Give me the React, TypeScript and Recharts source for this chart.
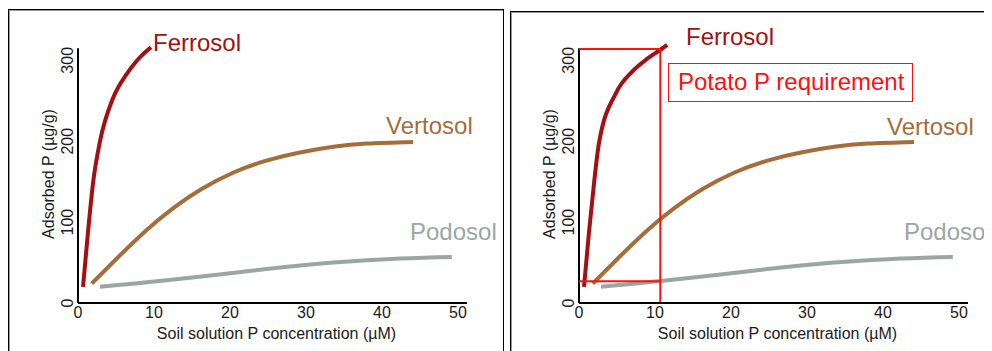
import React from 'react';
import { LineChart, Line, XAxis, YAxis, ReferenceLine, Label } from 'recharts';

// axis ticks
const xTicks = [0, 10, 20, 30, 40, 50];
const yTicks = [0, 100, 200, 300];

// sorption isotherms (conc in µM, adsorbed P in µg/g)
const ferrosolConc = [0.66, 1.3, 2.0, 2.9, 4.6, 6.4, 7.8, 9.6];
const ferrosolAds = [20, 86, 150, 200, 253, 283, 300, 316];
// right panel version runs a bit further
const ferrosolConc2 = [0.66, 1.3, 2.0, 2.6, 4.9, 7.0, 9.0, 10.7, 11.6];
const ferrosolAds2 = [20, 86, 150, 196, 260, 286, 302, 313, 319];
const vertosolConc = [1.8, 5.1, 9.0, 12.5, 16.1, 20.4, 24.8, 29.2, 33.6, 38.0, 44.1];
const vertosolAds = [24, 55, 90, 117, 140, 161, 176, 186, 193, 197, 199];
const podosolConc = [2.9, 11.7, 24.8, 33.6, 42.4, 49.2];
const podosolAds = [20, 28, 42, 50, 55, 57];

// potato P requirement box
const reqConc = 10.7;
const reqLow = 27;
const reqHigh = 314;
const yAxisTop = 315;

const zip = (xs: number[], ys: number[]) => xs.map((x, i) => ({ x, y: ys[i] }));

const FERRO = '#A30F12';
const VERTO = '#A56D3A';
const PODO = '#98A8A0';
const RED = '#FF1010';
const INK = '#1a1a1a';

const YTick = (props: any) => {
    const { x, y, payload } = props;
    return (
        <text x={x} y={y} transform={`rotate(-90 ${x} ${y})`} textAnchor="middle" fontSize={16} fill={INK}>
            {payload.value}
        </text>
    );
};

const YLabel = (props: any) => {
    const vb = props.viewBox;
    const cx = vb.x + 10;
    const cy = vb.y + vb.height / 2 + 4.5;
    return (
        <text x={cx} y={cy} transform={`rotate(-90 ${cx} ${cy})`} textAnchor="middle" dominantBaseline="central" fontSize={16} fill={INK}>
            Adsorbed P (µg/g)
        </text>
    );
};

const XLabel = (props: any) => {
    const vb = props.viewBox;
    return (
        <text x={vb.x + vb.width / 2 + 4} y={vb.y + 30} textAnchor="middle" dominantBaseline="central" fontSize={16} fill={INK}>
            Soil solution P concentration (µM)
        </text>
    );
};

const vertosolData = zip(vertosolConc, vertosolAds);
const podosolData = zip(podosolConc, podosolAds);

interface PanelProps {
    left: number;
    ferrosol: { x: number; y: number }[];
    requirement?: boolean;
}

const Panel: React.FC<PanelProps> = ({ left, ferrosol, requirement }) => (
    <div style={{ position: 'absolute', left, top: 0 }}>
        <LineChart width={480} height={340} margin={{ top: 28, right: 21, bottom: 0, left: 30 }}>
            <XAxis
                type="number"
                dataKey="x"
                domain={[0, 51.2]}
                ticks={xTicks}
                tickLine={false}
                tickSize={0}
                tickMargin={4}
                height={45}
                axisLine={{ stroke: '#000', strokeWidth: 2 }}
                tick={{ fontSize: 16, fill: INK }}
            >
                <Label content={XLabel} />
            </XAxis>
            <YAxis
                type="number"
                dataKey="y"
                domain={[0, 330]}
                ticks={yTicks}
                width={40}
                axisLine={false}
                tickLine={false}
                tickSize={0}
                tickMargin={5}
                tick={YTick}
            >
                <Label content={YLabel} />
            </YAxis>
            <ReferenceLine segment={[{ x: 0, y: 0 }, { x: 0, y: yAxisTop }]} stroke="#000" strokeWidth={2} />
            <Line data={podosolData} dataKey="y" type="natural" stroke={PODO} strokeWidth={4} dot={false} isAnimationActive={false} />
            <Line data={vertosolData} dataKey="y" type="natural" stroke={VERTO} strokeWidth={4} dot={false} isAnimationActive={false} />
            <Line data={ferrosol} dataKey="y" type="monotone" stroke={FERRO} strokeWidth={4} dot={false} isAnimationActive={false} />
            {requirement && (
                <ReferenceLine segment={[{ x: 0, y: reqHigh }, { x: reqConc, y: reqHigh }]} stroke={RED} strokeWidth={2} />
            )}
            {requirement && (
                <ReferenceLine segment={[{ x: reqConc, y: 0 }, { x: reqConc, y: reqHigh }]} stroke={RED} strokeWidth={2} />
            )}
            {requirement && (
                <ReferenceLine segment={[{ x: 0, y: reqLow }, { x: reqConc, y: reqLow }]} stroke={RED} strokeWidth={2} />
            )}
        </LineChart>
    </div>
);

const tag = (color: string, left: number, top: number) => ({
    position: 'absolute' as const,
    left,
    top,
    color,
    fontSize: 24,
    lineHeight: '24px',
    whiteSpace: 'nowrap' as const,
});

export default function App() {
    return (
        <div
            style={{
                position: 'relative',
                width: 984,
                height: 343,
                overflow: 'hidden',
                background: '#fff',
                fontFamily: "'Liberation Sans', Arial, sans-serif",
            }}
        >
            <div style={{ position: 'absolute', left: 0, top: 1, width: 494, height: 400, border: '1px solid #000', boxShadow: 'inset 1px 1px 0 #999' }} />
            <div style={{ position: 'absolute', left: 502, top: 3, width: 600, height: 400, border: '1px solid #000', boxShadow: 'inset 1px 1px 0 #999' }} />

            <Panel left={0} ferrosol={zip(ferrosolConc, ferrosolAds)} />
            <Panel left={501} ferrosol={zip(ferrosolConc2, ferrosolAds2)} requirement />

            <div style={tag(FERRO, 145, 23)}>Ferrosol</div>
            <div style={tag(VERTO, 378, 106)}>Vertosol</div>
            <div style={tag(PODO, 402, 212)}>Podosol</div>

            <div style={tag(FERRO, 678, 17)}>Ferrosol</div>
            <div style={tag(VERTO, 879, 107)}>Vertosol</div>
            <div style={tag(PODO, 896, 212)}>Podosol</div>

            <div
                style={{
                    position: 'absolute',
                    left: 660,
                    top: 55,
                    width: 245,
                    height: 39,
                    boxSizing: 'border-box',
                    border: `1.5px solid ${RED}`,
                    color: RED,
                    fontSize: 24,
                    lineHeight: '36px',
                    paddingLeft: 9,
                    whiteSpace: 'nowrap',
                }}
            >
                Potato P requirement
            </div>
        </div>
    );
}
